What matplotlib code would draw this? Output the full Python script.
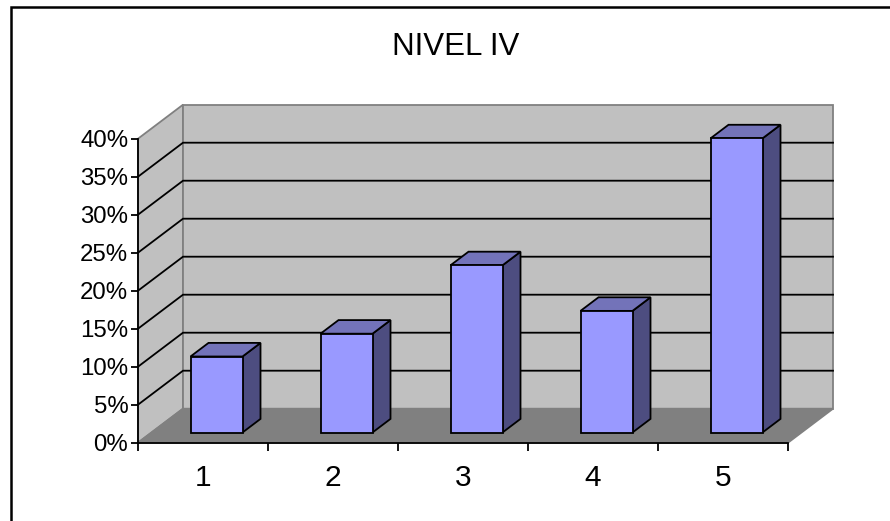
import matplotlib
matplotlib.use('Agg')
import matplotlib.pyplot as plt
from matplotlib.lines import Line2D
from matplotlib.patches import Polygon

# --- datos ---
categorias = ['1', '2', '3', '4', '5']
valores = [10, 13, 22, 16, 38.7]
marcas_y = [0, 5, 10, 15, 20, 25, 30, 35, 40]
etiquetas_y = ['0%', '5%', '10%', '15%', '20%', '25%', '30%', '35%', '40%']
titulo = 'NIVEL IV'

# --- tamano de la figura en pixeles ---
W, H = 890, 521
plt.rcParams['font.family'] = ['Liberation Sans', 'DejaVu Sans']

fig = plt.figure(figsize=(W / 100, H / 100), dpi=100, facecolor='white')

# marco exterior (sin lado derecho ni inferior visibles)
fig.add_artist(Line2D([10.5 / W, 10.5 / W, 1], [0, 1 - 7 / H, 1 - 7 / H],
                      transform=fig.transFigure, color='black', lw=1.8,
                      solid_joinstyle='miter'))

# ejes: x de 138 a 788 px, y de 442.7 a 138.7 px
ax = fig.add_axes([138 / W, 1 - 442.7 / H, 650 / W, 304 / H])
ax.set_xlim(0, 5)
ax.set_ylim(0, 40)
ax.patch.set_visible(False)

# desplazamiento de la profundidad en unidades de datos
DX = 45 / 130
DY = 34 / 7.6


def p(x, y, d):
    # proyeccion oblicua: d = 0 frente, d = 1 fondo
    return (x + d * DX, y + d * DY)


def cara(puntos, color, ec='black', lw=1.3, z=2):
    ax.add_patch(Polygon(puntos, closed=True, fc=color, ec=ec, lw=lw, zorder=z,
                         clip_on=False, joinstyle='miter'))


# pared lateral, pared del fondo y piso
cara([p(0, 0, 0), p(0, 0, 1), p(0, 40, 1), p(0, 40, 0)], '#c0c0c0', ec='#808080', z=1)
cara([p(0, 0, 1), p(5, 0, 1), p(5, 40, 1), p(0, 40, 1)], '#c0c0c0', ec='#808080', z=1)
cara([p(0, 0, 0), p(5, 0, 0), p(5, 0, 1), p(0, 0, 1)], '#808080', ec='#808080', z=1)

# lineas de division
for v in marcas_y[1:-1]:
    a = p(0, v, 0)
    b = p(0, v, 1)
    c = p(5, v, 1)
    ax.plot([a[0], b[0], c[0]], [a[1], b[1], c[1]], color='black', lw=1.3, zorder=1.5,
            clip_on=False, solid_joinstyle='miter')

# barras 3D
ancho = 0.4
d0, d1 = 0.3, 0.7
for i, v in enumerate(valores):
    x0 = i + 0.5 - ancho / 2
    x1 = x0 + ancho
    cara([p(x1, 0, d0), p(x1, 0, d1), p(x1, v, d1), p(x1, v, d0)], '#4d4d80', z=3)
    cara([p(x0, v, d0), p(x1, v, d0), p(x1, v, d1), p(x0, v, d1)], '#7373b9', z=3)
    cara([p(x0, 0, d0), p(x1, 0, d0), p(x1, v, d0), p(x0, v, d0)], '#9999ff', z=4)

# ejes y marcas
ax.spines['top'].set_visible(False)
ax.spines['right'].set_visible(False)
for s in ['left', 'bottom']:
    ax.spines[s].set_linewidth(1.3)
    ax.spines[s].set_zorder(5)

ax.set_yticks(marcas_y)
ax.set_yticklabels(etiquetas_y)
ax.set_xticks(range(6))
ax.set_xticklabels([])
ax.set_xticks([i + 0.5 for i in range(5)], minor=True)
ax.set_xticklabels(categorias, minor=True)
ax.tick_params(axis='y', length=5, width=1.3, pad=2, labelsize=17.3)
ax.tick_params(axis='x', which='major', length=6, width=1.3)
ax.tick_params(axis='x', which='minor', length=0, pad=15, labelsize=21.5)

fig.text(456 / W, 1 - 47 / H, titulo, ha='center', va='center', fontsize=22.5)

fig.savefig('out.png', dpi=100)
